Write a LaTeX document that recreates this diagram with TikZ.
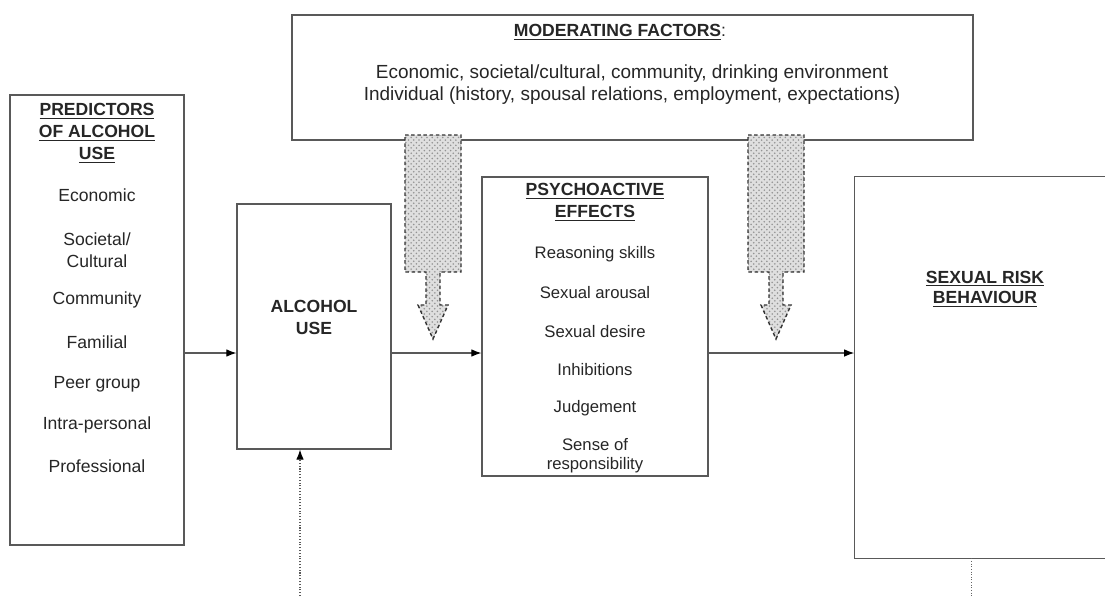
\documentclass[tikz,border=0pt]{standalone}
\usepackage{fontspec}
\setmainfont{Liberation Sans}
\usepackage{tikz}
\usetikzlibrary{arrows.meta,patterns}

\newcommand{\ulbf}[1]{\underline{\textbf{#1}}}

\begin{document}
\begin{tikzpicture}[x=0.02cm,y=-0.02cm,>=Latex,
  box/.style={draw=black!65,line width=0.7pt,inner sep=0pt},
  txt/.style={font=\fontsize{10}{12.5}\selectfont,align=center,text=black!85,inner sep=1pt},
  link/.style={-{Latex[black]},draw=black!65,line width=0.6pt},
  fat/.style={draw=black!80,line width=0.8pt,dash pattern=on 2pt off 1.5pt,
    preaction={fill=gray!25},pattern=crosshatch dots,pattern color=gray!85}]
\useasboundingbox (0,0) rectangle (1105,596);

% Boxes
\node[box,minimum width=13.62cm,minimum height=2.5cm] (mod) at (632.5,77.5) {};
\node[box,minimum width=3.48cm,minimum height=9cm] (pred) at (97,320) {};
\node[box,minimum width=3.08cm,minimum height=4.9cm] (alc) at (314,326.5) {};
\node[box,minimum width=4.52cm,minimum height=5.98cm] (psy) at (595,326.5) {};
\node[inner sep=0pt,minimum width=5.02cm,minimum height=7.62cm] (risk) at (980,367.5) {};
\draw[draw=black!65,line width=0.7pt] (risk.north east) -- (risk.north west)
  -- (risk.south west) -- (risk.south east);

% Moderating factors
\node[txt] (modtitle) at (620,32) {\ulbf{MODERATING FACTORS}:};
\node[txt,font=\fontsize{10.8}{12.6}\selectfont] (modtext) at (632,85)
  {Economic, societal/cultural, community, drinking environment\\
   Individual (history, spousal relations, employment, expectations)};

% Predictors
\node[txt] (predtitle) at (97,133) {\ulbf{PREDICTORS}\\\ulbf{OF ALCOHOL}\\\ulbf{USE}};
\node[txt] (p1) at (97,195) {Economic};
\node[txt] (p2) at (97,250) {Societal/\\Cultural};
\node[txt] (p3) at (97,300) {Community};
\node[txt] (p4) at (97,342) {Familial};
\node[txt] (p5) at (97,384) {Peer group};
\node[txt] (p6) at (97,425) {Intra-personal};
\node[txt] (p7) at (97,466) {Professional};

% Alcohol use
\node[txt] (alctitle) at (314,317) {\textbf{ALCOHOL}\\\textbf{USE}};

% Psychoactive effects
\node[txt] (psytitle) at (595,202) {\ulbf{PSYCHOACTIVE}\\\ulbf{EFFECTS}};
\node[txt,font=\fontsize{9.5}{11}\selectfont] (e1) at (595,254) {Reasoning skills};
\node[txt,font=\fontsize{9.5}{11}\selectfont] (e2) at (595,293) {Sexual arousal};
\node[txt,font=\fontsize{9.5}{11}\selectfont] (e3) at (595,332) {Sexual desire};
\node[txt,font=\fontsize{9.5}{11}\selectfont] (e4) at (595,370) {Inhibitions};
\node[txt,font=\fontsize{9.5}{11}\selectfont] (e5) at (595,408) {Judgement};
\node[txt,font=\fontsize{9.5}{11}\selectfont] (e6) at (595,455.5) {Sense of\\responsibility};

% Sexual risk behaviour
\node[txt,font=\fontsize{10}{11.5}\selectfont] (risktitle) at (985,289) {\ulbf{SEXUAL RISK}\\\ulbf{BEHAVIOUR}};

% Links
\coordinate (lnk) at (0,353);
\draw[link] (pred.east |- lnk) -- (alc.west |- lnk);
\draw[link] (alc.east |- lnk) -- (psy.west |- lnk);
\draw[link] (psy.east |- lnk) -- (risk.west |- lnk);

\coordinate (alcsrc) at (300,596);
\draw[link,densely dotted] (alcsrc) -- (alcsrc |- alc.south);
\coordinate (riskout) at (971,596);
\draw[draw=black!60,line width=0.5pt,densely dotted] (riskout |- risk.south) -- (riskout);

% Moderating arrows
\foreach \c in {433,776}
  \draw[fat] (\c-28,135) -- (\c+28,135) -- (\c+28,272) -- (\c+7,272) -- (\c+7,305)
    -- (\c+15,305) -- (\c,339) -- (\c-15,305) -- (\c-7,305) -- (\c-7,272)
    -- (\c-28,272) -- cycle;
\end{tikzpicture}
\end{document}
